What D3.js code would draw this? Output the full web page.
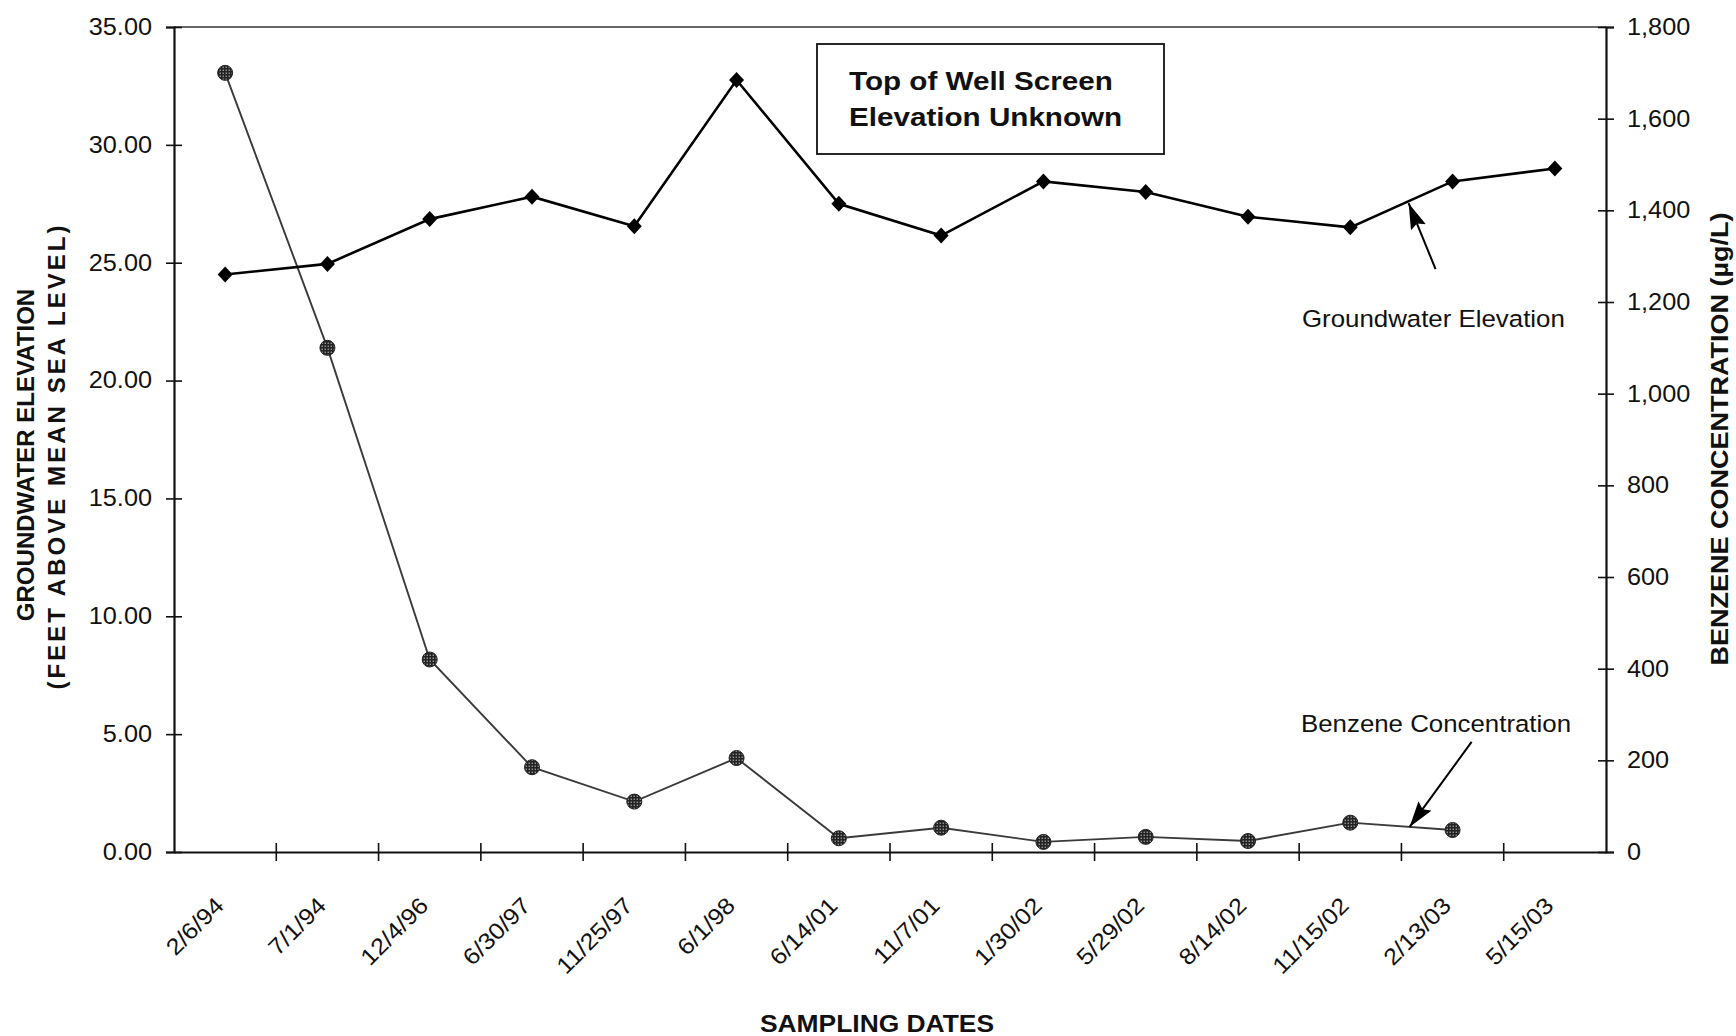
<!DOCTYPE html>
<html>
<head>
<meta charset="utf-8">
<script src="https://cdn.jsdelivr.net/npm/d3@7"></script>
<style>
  html, body { margin: 0; padding: 0; background: #fff; }
  svg { display: block; }
  text { font-family: "Liberation Sans", Arial, sans-serif; fill: #111; }
</style>
</head>
<body>
<svg id="chart" width="1736" height="1036"></svg>
<script>
// ---- data ----
const categories = ["2/6/94","7/1/94","12/4/96","6/30/97","11/25/97","6/1/98","6/14/01","11/7/01","1/30/02","5/29/02","8/14/02","11/15/02","2/13/03","5/15/03"];
const groundwater = [24.5, 24.95, 26.85, 27.8, 26.55, 32.75, 27.5, 26.15, 28.45, 28.0, 26.95, 26.5, 28.45, 29.0];
const benzene = [1700, 1100, 420, 185, 110, 205, 30, 53, 22, 33, 24, 64, 48, null];
const leftTicks = [0, 5, 10, 15, 20, 25, 30, 35];
const rightTicks = [0, 200, 400, 600, 800, 1000, 1200, 1400, 1600, 1800];

const W = 1736, H = 1036;
const m = { left: 174, right: 130, top: 27, bottom: 184 };
const pw = W - m.left - m.right, ph = H - m.top - m.bottom;
const SX = 1.1; // wide type

const svg = d3.select("#chart");
svg.append("rect").attr("width", W).attr("height", H).attr("fill", "#fff");

const defs = svg.append("defs");
const pat = defs.append("pattern").attr("id", "hatch").attr("patternUnits", "userSpaceOnUse")
  .attr("width", 3).attr("height", 3);
pat.append("rect").attr("width", 3).attr("height", 3).attr("fill", "#222");
pat.append("rect").attr("x", 0.6).attr("y", 0.6).attr("width", 1.3).attr("height", 1.3).attr("fill", "#aaa");
defs.append("marker").attr("id", "arrow").attr("viewBox", "0 0 26 16")
  .attr("refX", 26).attr("refY", 8).attr("markerWidth", 26).attr("markerHeight", 16)
  .attr("markerUnits", "userSpaceOnUse").attr("orient", "auto")
  .append("path").attr("d", "M0,0 L26,8 L0,16 L4,8 z").attr("fill", "#000");

const g = svg.append("g").attr("transform", `translate(${m.left},${m.top})`);

const x = d3.scaleBand().domain(categories).range([0, pw]).padding(0);
const yL = d3.scaleLinear().domain([0, 35]).range([ph, 0]);
const yR = d3.scaleLinear().domain([0, 1800]).range([ph, 0]);
const cx = c => x(c) + x.bandwidth() / 2;

// plot frame (top border)
g.append("line").attr("x1", 0).attr("x2", pw).attr("y1", 0).attr("y2", 0)
  .attr("stroke", "#333").attr("stroke-width", 1.6);

// left axis
const axL = g.append("g").call(d3.axisLeft(yL).tickValues(leftTicks).tickFormat(d3.format(".2f")).tickSize(8));
axL.select(".domain").attr("stroke", "#111").attr("stroke-width", 2.2);
axL.selectAll(".tick line").attr("x1", 8).attr("stroke", "#111").attr("stroke-width", 1.6);
axL.selectAll(".tick text").attr("font-size", 23).attr("x", -22 / SX).attr("transform", `scale(${SX},1)`).attr("fill", "#111");

// right axis
const axR = g.append("g").attr("transform", `translate(${pw},0)`)
  .call(d3.axisRight(yR).tickValues(rightTicks).tickFormat(d3.format(",")).tickSize(8));
axR.select(".domain").attr("stroke", "#111").attr("stroke-width", 2.2);
axR.selectAll(".tick line").attr("x1", -8).attr("stroke", "#111").attr("stroke-width", 1.6);
axR.selectAll(".tick text").attr("font-size", 23).attr("x", 21 / SX).attr("transform", `scale(${SX},1)`).attr("fill", "#111");

// bottom axis (labels at centres, ticks at boundaries)
const axB = g.append("g").attr("transform", `translate(0,${ph})`)
  .call(d3.axisBottom(x).tickSize(0).tickPadding(0));
axB.select(".domain").attr("stroke", "#111").attr("stroke-width", 2.2);
axB.selectAll(".tick text")
  .attr("font-size", 23).attr("text-anchor", "end").attr("dy", 0).attr("y", 0)
  .attr("transform", `translate(0,55) rotate(-45) scale(${SX},1)`).attr("fill", "#111");
axB.selectAll(".boundary").data(categories.slice(1)).join("line")
  .attr("class", "boundary")
  .attr("x1", d => x(d)).attr("x2", d => x(d)).attr("y1", -9).attr("y2", 9)
  .attr("stroke", "#111").attr("stroke-width", 1.6);

// benzene series (right axis)
const bz = categories.map((c, i) => ({ c, v: benzene[i] })).filter(d => d.v != null);
g.append("path").datum(bz)
  .attr("d", d3.line().x(d => cx(d.c)).y(d => yR(d.v)))
  .attr("fill", "none").attr("stroke", "#3a3a3a").attr("stroke-width", 1.9);
g.selectAll(".bzpt").data(bz).join("circle").attr("class", "bzpt")
  .attr("cx", d => cx(d.c)).attr("cy", d => yR(d.v)).attr("r", 7.5)
  .attr("fill", "url(#hatch)").attr("stroke", "#222").attr("stroke-width", 1);

// groundwater series (left axis)
const gw = categories.map((c, i) => ({ c, v: groundwater[i] }));
g.append("path").datum(gw)
  .attr("d", d3.line().x(d => cx(d.c)).y(d => yL(d.v)))
  .attr("fill", "none").attr("stroke", "#000").attr("stroke-width", 2.6);
g.selectAll(".gwpt").data(gw).join("path").attr("class", "gwpt")
  .attr("transform", d => `translate(${cx(d.c)},${yL(d.v)})`)
  .attr("d", "M0,-8 L7.5,0 L0,8 L-7.5,0 Z").attr("fill", "#000");

// helper: interpolate a series between two categories
function along(series, scale, i, t) {
  const xa = cx(categories[i]), xb = cx(categories[i + 1]);
  return [xa + (xb - xa) * t, scale(series[i] + (series[i + 1] - series[i]) * t)];
}

// groundwater annotation
const gTip = along(groundwater, yL, 11, 0.57);
g.append("line").attr("x1", gTip[0] + 27).attr("y1", gTip[1] + 68).attr("x2", gTip[0]).attr("y2", gTip[1] + 2)
  .attr("stroke", "#000").attr("stroke-width", 2).attr("marker-end", "url(#arrow)");
g.append("text").attr("transform", `translate(${pw - 304},300) scale(${SX},1)`)
  .attr("font-size", 23.5).text("Groundwater Elevation");

// benzene annotation
const bTip = along(benzene, yR, 11, 0.58);
g.append("line").attr("x1", bTip[0] + 62).attr("y1", bTip[1] - 85).attr("x2", bTip[0]).attr("y2", bTip[1])
  .attr("stroke", "#000").attr("stroke-width", 2).attr("marker-end", "url(#arrow)");
g.append("text").attr("transform", `translate(${pw - 305},705) scale(${SX},1)`)
  .attr("font-size", 23.5).text("Benzene Concentration");

// text box
const box = g.append("g").attr("transform", "translate(643,17)");
box.append("rect").attr("width", 347).attr("height", 110).attr("fill", "#fff")
  .attr("stroke", "#111").attr("stroke-width", 1.8);
box.append("text").attr("transform", `translate(32,46) scale(1.14,1)`)
  .attr("font-size", 26).attr("font-weight", "bold").text("Top of Well Screen");
box.append("text").attr("transform", `translate(32,82) scale(1.14,1)`)
  .attr("font-size", 26).attr("font-weight", "bold").text("Elevation Unknown");

// axis titles
svg.append("text").attr("transform", `translate(34,455) rotate(-90) scale(1.045,1)`)
  .attr("text-anchor", "middle").attr("font-size", 23).attr("font-weight", "bold")
  .text("GROUNDWATER ELEVATION");
svg.append("text").attr("transform", `translate(65,456) rotate(-90) scale(1.045,1)`)
  .attr("text-anchor", "middle").attr("font-size", 23).attr("font-weight", "bold")
  .attr("letter-spacing", 2.9)
  .text("(FEET ABOVE MEAN SEA LEVEL)");
svg.append("text").attr("transform", `translate(1728,439) rotate(-90) scale(1.125,1)`)
  .attr("text-anchor", "middle").attr("font-size", 24).attr("font-weight", "bold")
  .text("BENZENE CONCENTRATION (µg/L)");
svg.append("text").attr("transform", `translate(877,1032) scale(1.1,1)`)
  .attr("text-anchor", "middle").attr("font-size", 24).attr("font-weight", "bold")
  .text("SAMPLING DATES");
</script>
</body>
</html>
